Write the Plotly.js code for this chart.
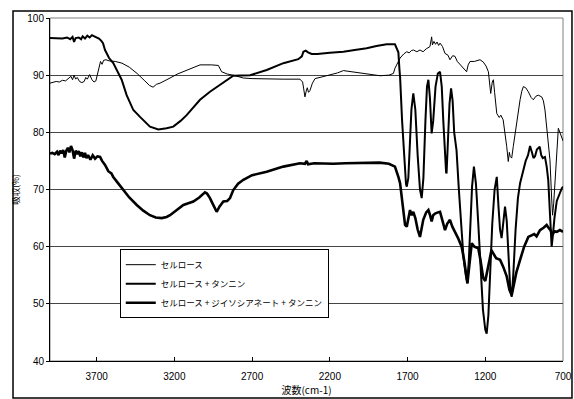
<!DOCTYPE html>
<html>
<head>
<meta charset="utf-8">
<script src="https://cdn.plot.ly/plotly-3.0.1.min.js"></script>
<style>html,body{margin:0;padding:0;background:#fff;}#chart{width:574px;height:399px;}</style>
</head>
<body>
<div id="chart"></div>
<script>
// Series names
const seriesNames = ["セルロース", "セルロース + タンニン", "セルロース + ジイソシアネート + タンニン"];
// X tick labels
const xTickVals = [3700, 3200, 2700, 2200, 1700, 1200, 700];
const xTickText = ["3700", "3200", "2700", "2200", "1700", "1200", "700"];

// セルロース
const wnA = [4000,3980,3960,3940,3920,3900,3880,3865,3855,3845,3835,3825,3810,3795,3780,3770,3760,3745,3730,3717,3705,3695,3685,3675,3665,3655,3640,3620,3580,3537,3490,3440,3390,3360,3337,3315,3292,3260,3228,3180,3130,3080,3035,2960,2917,2896,2860,2821,2756,2700,2606,2500,2392,2375,2368,2360,2352,2345,2337,2328,2312,2295,2250,2200,2150,2113,2060,2006,1940,1877,1820,1791,1781,1765,1748,1725,1705,1690,1675,1662,1640,1620,1600,1580,1565,1556,1548,1545,1540,1530,1520,1510,1500,1491,1475,1459,1440,1427,1410,1395,1380,1362,1340,1320,1310,1298,1270,1250,1234,1213,1195,1180,1172,1165,1155,1148,1140,1126,1110,1100,1085,1070,1062,1052,1045,1040,1030,1020,1009,990,976,965,955,940,923,905,891,875,859,837,826,816,805,795,784,773,767,760,750,740,730,720,708,700];
const valA = [88.6,88.7,88.9,88.8,89.1,89.0,89.4,89.8,89.2,90.0,89.3,89.6,88.9,88.7,88.9,89.6,89.3,90.1,89.2,88.8,89.0,90.0,91.5,92.4,91.9,92.6,92.7,92.5,92.4,92.1,91.4,90.3,89.0,88.2,87.9,88.4,88.6,89.0,89.5,90.2,90.8,91.3,91.8,91.8,91.7,90.6,90.2,90.0,89.5,89.4,89.3,89.3,89.3,88.8,87.6,86.2,87.2,87.8,87.0,87.3,88.6,89.4,89.7,90.0,90.4,90.8,90.6,90.4,90.1,89.9,90.0,90.3,91.2,92.2,93.0,93.7,94.1,93.9,94.3,94.4,94.1,94.4,94.1,94.6,94.8,95.0,96.2,96.7,95.3,95.9,95.4,95.8,95.2,95.6,95.0,93.8,93.5,92.7,93.4,93.3,92.4,91.8,91.2,90.6,91.8,92.4,92.4,92.6,92.7,92.3,91.6,90.6,88.0,86.8,88.8,89.2,87.0,83.3,82.6,83.0,82.2,79.5,77.5,74.9,76.5,75.8,75.5,77.5,79.8,83.0,85.7,87.2,88.0,87.8,87.1,86.1,85.7,86.3,86.5,86.2,85.5,83.9,81.3,78.7,75.2,68.5,65.5,67.5,72.0,77.0,80.7,80.0,79.2,78.5];

// セルロース + タンニン
const wnB = [4000,3960,3920,3890,3870,3855,3845,3835,3815,3800,3790,3775,3760,3745,3730,3715,3700,3685,3670,3659,3646,3620,3593,3582,3539,3507,3464,3421,3357,3303,3250,3207,3160,3121,3080,3035,2971,2906,2860,2821,2713,2606,2499,2403,2380,2370,2355,2340,2317,2280,2200,2113,2040,1963,1900,1834,1781,1770,1759,1752,1748,1735,1720,1710,1705,1695,1685,1675,1663,1650,1635,1620,1609,1598,1585,1575,1566,1556,1545,1535,1520,1505,1491,1480,1470,1460,1452,1449,1440,1430,1420,1410,1400,1385,1370,1355,1340,1325,1315,1305,1295,1285,1273,1260,1245,1230,1215,1200,1191,1180,1170,1155,1140,1126,1115,1105,1095,1085,1073,1062,1050,1040,1030,1020,1005,990,976,960,940,925,912,900,890,880,868,860,850,840,830,816,805,795,785,780,773,765,755,740,720,708,700];
const valB = [96.5,96.5,96.4,96.6,96.3,96.7,95.8,96.5,96.6,96.3,96.8,96.4,96.9,96.6,97.0,96.8,96.6,96.4,96.0,95.6,94.4,93.0,92.1,91.5,89.2,86.5,83.9,82.7,81.0,80.5,80.7,81.0,82.0,83.0,84.3,85.7,87.1,88.3,89.2,89.9,90.0,90.9,92.1,92.8,93.3,94.1,94.3,94.0,93.7,93.7,93.9,94.1,94.4,94.7,95.1,95.4,95.4,94.8,94.0,91.0,89.7,82.0,75.0,71.0,70.5,72.0,78.0,84.0,86.8,84.0,76.0,70.0,68.5,72.0,82.0,88.0,89.2,86.0,79.8,82.0,88.0,90.3,90.6,88.0,82.0,76.0,73.0,72.8,78.0,85.0,87.7,85.5,80.0,76.9,70.0,63.0,58.0,55.0,53.6,58.0,65.0,70.5,74.0,71.0,64.0,56.0,49.0,45.5,44.8,48.0,55.0,64.0,70.0,72.2,67.0,63.0,61.5,64.0,67.0,64.5,58.0,53.0,51.2,55.0,63.0,68.5,71.1,73.0,75.0,76.0,77.6,76.5,75.5,75.8,77.0,77.2,77.5,76.0,75.5,75.7,74.0,71.7,67.0,63.0,60.0,62.0,65.0,68.0,69.5,70.2,70.5];

// セルロース + ジイソシアネート + タンニン
const wnC = [4000,3985,3970,3955,3945,3935,3925,3915,3905,3895,3885,3875,3865,3855,3845,3835,3825,3815,3805,3795,3785,3775,3765,3755,3740,3725,3710,3695,3678,3665,3646,3625,3605,3593,3565,3528,3490,3442,3400,3357,3320,3281,3250,3228,3190,3142,3110,3078,3040,3003,2990,2971,2950,2928,2910,2885,2860,2842,2821,2790,2756,2700,2606,2550,2499,2392,2360,2349,2340,2300,2178,2100,1963,1880,1820,1781,1759,1748,1730,1716,1705,1695,1684,1673,1663,1650,1635,1620,1610,1599,1580,1566,1555,1545,1535,1523,1505,1491,1475,1459,1445,1427,1412,1395,1375,1352,1335,1315,1300,1287,1270,1245,1230,1213,1200,1185,1170,1160,1148,1130,1105,1085,1062,1045,1030,1015,1000,976,950,923,905,885,870,848,825,805,790,780,770,755,740,720,700];
const valC = [76.3,76.4,76.2,76.6,76.0,76.8,76.3,76.9,75.6,76.8,77.3,76.5,77.6,76.9,75.4,76.8,76.2,76.7,75.8,76.5,75.6,76.4,75.5,76.0,75.2,76.0,75.4,75.8,75.7,75.0,74.3,73.2,72.8,72.2,71.2,69.9,68.6,67.3,66.3,65.5,65.1,65.0,65.2,65.5,66.3,67.3,67.6,67.9,68.6,69.5,69.3,68.5,67.3,66.1,67.0,67.9,68.0,68.5,69.9,71.0,71.7,72.5,73.1,73.6,74.0,74.6,74.5,75.0,74.4,74.6,74.5,74.6,74.6,74.7,74.5,74.0,72.2,71.1,67.0,63.8,63.5,65.0,66.4,65.5,66.1,65.0,63.0,61.7,63.5,64.7,66.0,66.4,65.5,64.4,65.5,65.8,66.0,66.1,64.5,62.9,64.0,64.7,63.5,62.6,61.5,60.0,57.5,53.6,57.0,60.6,60.0,59.7,57.5,54.5,54.0,56.0,58.5,59.4,58.8,58.0,57.7,56.5,54.8,52.5,51.5,53.5,55.5,57.7,60.0,61.7,62.0,62.2,61.8,62.9,63.3,63.8,63.2,62.9,62.0,62.7,62.6,62.9,62.6];

const tickFont = {family: "Liberation Sans, Arial, sans-serif", size: 10, color: "#000"};
const legendFont = {family: "Noto Sans CJK JP, sans-serif", size: 8.5, color: "#000"};
const xTitleFont = {family: "Noto Sans CJK JP, sans-serif", size: 10, color: "#000"};
const yTitleFont = {family: "Noto Sans CJK JP, sans-serif", size: 8.5, color: "#000"};

const traces = [
  {x: wnA, y: valA, name: seriesNames[0], type: "scatter", mode: "lines", line: {color: "#000", width: 1}},
  {x: wnB, y: valB, name: seriesNames[1], type: "scatter", mode: "lines", line: {color: "#000", width: 2}},
  {x: wnC, y: valC, name: seriesNames[2], type: "scatter", mode: "lines", line: {color: "#000", width: 2.6}}
];

const layout = {
  width: 574, height: 399,
  margin: {l: 50, r: 11, t: 18, b: 38},
  paper_bgcolor: "#fff", plot_bgcolor: "#fff",
  showlegend: true,
  legend: {x: 0.136, y: 0.326, xanchor: "left", yanchor: "top", bgcolor: "#fff", bordercolor: "#000", borderwidth: 1, font: legendFont, tracegroupgap: 0, itemwidth: 30},
  xaxis: {
    range: [4000, 700], tickvals: xTickVals, ticktext: xTickText,
    ticks: "inside", ticklen: 4, tickcolor: "#000", showgrid: false, zeroline: false,
    showline: true, linecolor: "#000", linewidth: 1, tickfont: tickFont, ticklabelstandoff: 6,
    title: {text: "波数(cm-1)", font: xTitleFont, standoff: 4}
  },
  yaxis: {
    range: [40, 100], dtick: 10, ticks: "outside", ticklen: 3, tickcolor: "#000",
    showgrid: true, gridcolor: "#444", gridwidth: 1, zeroline: false,
    showline: true, linecolor: "#000", linewidth: 1, tickfont: tickFont,
    title: {text: "吸収(%)", font: yTitleFont, standoff: 6}
  },
  shapes: [
    {type: "rect", xref: "paper", yref: "paper", x0: 0, x1: 1, y0: 0, y1: 1, line: {color: "#808080", width: 1}, layer: "below"},
    {type: "rect", xref: "paper", yref: "paper", x0: -0.0721, x1: 1.0175, y0: -0.108, y1: 1.0204, line: {color: "#000", width: 1.5}, layer: "below"}
  ]
};

Plotly.newPlot("chart", traces, layout, {staticPlot: true, displayModeBar: false});
</script>
</body>
</html>
